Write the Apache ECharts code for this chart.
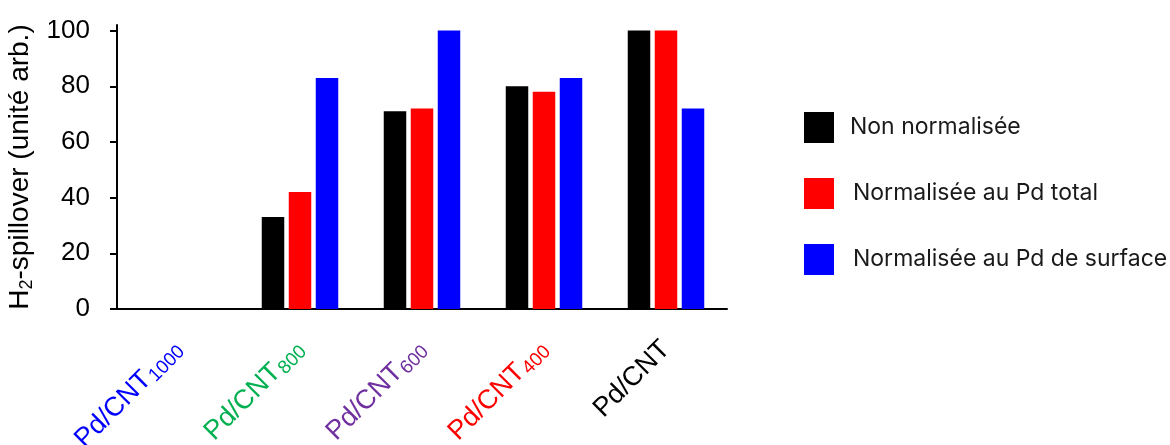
<!DOCTYPE html>
<html>
<head>
<meta charset="utf-8">
<script src="https://cdn.jsdelivr.net/npm/echarts@6/dist/echarts.min.js"></script>
<style>
  html, body { margin: 0; padding: 0; background: #ffffff; }
  #chart { width: 1170px; height: 445px; }
</style>
</head>
<body>
<div id="chart"></div>
<script>
// ---- Data ----
const categoryBase = ['Pd/CNT', 'Pd/CNT', 'Pd/CNT', 'Pd/CNT', 'Pd/CNT'];
const categorySub = ['1000', '800', '600', '400', ''];
const categoryColors = ['#0000ff', '#00b050', '#7030a0', '#ff0000', '#000000'];
const categories = categoryBase.map((b, i) => b + categorySub[i]);

const seriesNames = ['Non normalisée', 'Normalisée au Pd total', 'Normalisée au Pd de surface'];
const nonNormalisee = [0, 33, 71, 80, 100];
const normPdTotal = [0, 42, 72, 78, 100];
const normPdSurface = [0, 83, 100, 83, 72];
const seriesColors = ['#000000', '#ff0000', '#0000ff'];

const yTicks = [0, 20, 40, 60, 80, 100];

// ---- Chart ----
const chart = echarts.init(document.getElementById('chart'), null, { renderer: 'canvas' });

const FONT = 'Liberation Sans, Arial, sans-serif';
const rich = {};
categories.forEach((c, i) => {
  rich['b' + i] = { color: categoryColors[i], fontSize: 27, fontFamily: FONT, lineHeight: 30 };
  rich['s' + i] = { color: categoryColors[i], fontSize: 19, fontFamily: FONT, verticalAlign: 'bottom', lineHeight: 19, padding: [0, 0, 0, 1] };
});

const seriesData = [nonNormalisee, normPdTotal, normPdSurface];

const option = {
  backgroundColor: '#ffffff',
  animation: false,
  grid: { left: 117, right: 443, top: 25, bottom: 136, containLabel: false, outerBoundsMode: 'none' },
  legend: {
    orient: 'vertical',
    left: 804,
    top: 112,
    padding: 0,
    itemWidth: 30,
    itemHeight: 31,
    itemGap: 35,
    icon: 'rect',
    selectedMode: false,
    textStyle: { fontSize: 23, fontFamily: 'Inter, sans-serif', color: '#1a1a1a', padding: [0, 0, 0, 11] },
    data: seriesNames.map((n, i) => ({
      name: n,
      textStyle: { padding: [0, 0, 0, i === 0 ? 11 : 14] }
    }))
  },
  xAxis: {
    type: 'category',
    data: categories,
    axisLine: { show: true, lineStyle: { color: '#000000', width: 2 } },
    axisTick: { show: false },
    axisLabel: {
      rotate: 45,
      margin: 36,
      interval: 0,
      formatter: function (v, i) {
        let s = '{b' + i + '|' + categoryBase[i] + '}';
        if (categorySub[i]) s += '{s' + i + '|' + categorySub[i] + '}';
        return s;
      },
      rich: rich
    },
    splitLine: { show: false }
  },
  yAxis: {
    type: 'value',
    min: 0,
    max: 102,
    interval: 20,
    name: '{m|H}{sub|2}{m|-spillover (unité arb.)}',
    nameLocation: 'middle',
    nameRotate: 90,
    nameGap: 77,
    nameTextStyle: {
      rich: {
        m: { fontSize: 28, fontFamily: FONT, color: '#000000', lineHeight: 30 },
        sub: { fontSize: 18, fontFamily: FONT, color: '#000000', verticalAlign: 'bottom', lineHeight: 18 }
      }
    },
    axisLine: { show: true, lineStyle: { color: '#000000', width: 2 } },
    axisTick: { show: true, length: 7, lineStyle: { color: '#000000', width: 2 }, customValues: yTicks },
    axisLabel: { fontSize: 26, fontFamily: FONT, color: '#000000', margin: 27, customValues: yTicks },
    splitLine: { show: false }
  },
  series: seriesNames.map((n, i) => ({
    name: n,
    type: 'bar',
    data: seriesData[i],
    barWidth: 22.5,
    barGap: '20%',
    itemStyle: { color: seriesColors[i] }
  }))
};

chart.setOption(option);
</script>
</body>
</html>
